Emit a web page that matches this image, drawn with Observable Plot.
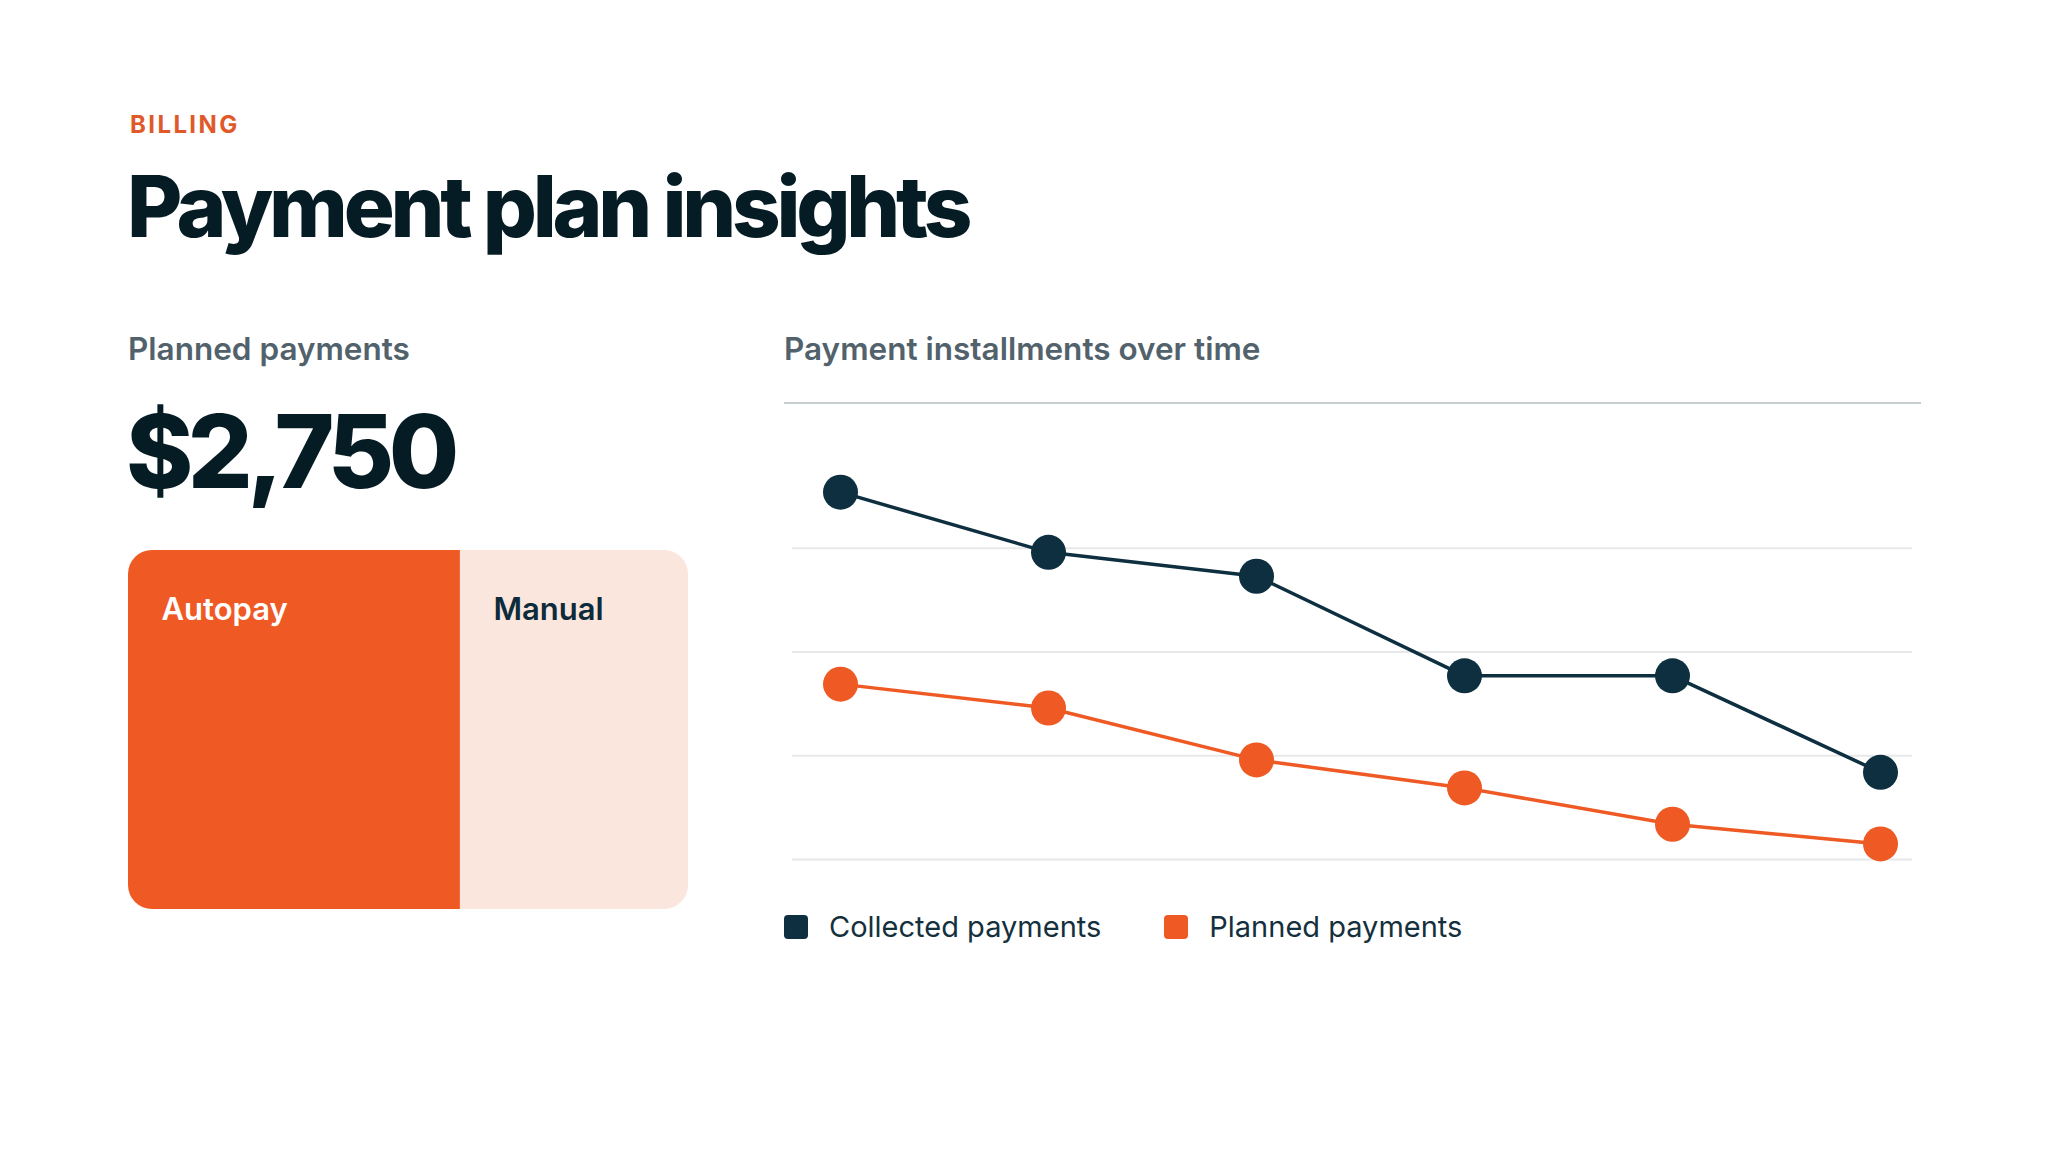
<!DOCTYPE html>
<html>
<head>
<meta charset="utf-8">
<script src="https://cdn.jsdelivr.net/npm/d3@7"></script>
<script src="https://cdn.jsdelivr.net/npm/@observablehq/plot@0.6"></script>
<style>
  html, body { margin: 0; padding: 0; background: #ffffff; }
  body { width: 2048px; height: 1152px; position: relative; overflow: hidden; font-family: Inter, "Noto Sans", sans-serif; }
  .abs { position: absolute; line-height: 1; white-space: nowrap; }
  #eyebrow { left: 130px; top: 112.6px; font-size: 24px; font-weight: 700; letter-spacing: 0.1em; color: #E0592B; }
  #title { left: 127px; top: 164px; font-size: 85px; font-weight: 800; letter-spacing: -0.05em; color: #061C25; }
  .section { top: 332.8px; font-size: 31.5px; font-weight: 600; color: #52626C; }
  #kpi { left: 126px; top: 400px; font-size: 102px; font-weight: 800; letter-spacing: -0.055em; color: #061C25; }
  #split { left: 128px; top: 550px; width: 560px; height: 359px; border-radius: 24px; overflow: hidden; }
  #sep { left: 784px; top: 402px; width: 1137px; height: 2px; background: #C8CDCF; }
  #chart { left: 788px; top: 405px; width: 1142px; }
  #legend { left: 784px; top: 912px; display: flex; align-items: center; font-size: 29px; color: #15303D; }
  .item { display: flex; align-items: center; margin-right: 63px; }
  .sw { width: 24px; height: 24px; border-radius: 4px; margin-right: 21px; }
</style>
</head>
<body>
<div id="eyebrow" class="abs">BILLING</div>
<div id="title" class="abs">Payment plan insights</div>
<div class="abs section" style="left:128px">Planned payments</div>
<div class="abs section" style="left:784px">Payment installments over time</div>
<div id="kpi" class="abs"></div>
<div id="split" class="abs"></div>
<div id="sep" class="abs"></div>
<div id="chart" class="abs"></div>
<div id="legend" class="abs"></div>
<script>
// ---- data ----
const splitLabels = ["Autopay", "Manual"];
const splitValues = [1630, 1120];
const splitColors = ["#EF5A24", "#FBE6DE"];
const splitTextColors = ["#FFFFFF", "#0D2B3A"];

const installments = [1, 2, 3, 4, 5, 6];
const collected = [354, 296, 273, 177, 177, 84];
const planned = [169, 146, 96, 69, 34, 15];
const seriesNames = ["Collected payments", "Planned payments"];
const seriesColors = ["#0D2F3F", "#EF5A24"];
const gridTicks = [0, 100, 200, 300];

// ---- KPI ----
const total = d3.sum(splitValues);
document.getElementById("kpi").textContent = "$" + d3.format(",")(total);

// ---- split (treemap-like bar) ----
let acc = 0;
const splitData = splitLabels.map((label, i) => {
  const d = {label, value: splitValues[i], start: acc, fill: splitColors[i], textColor: splitTextColors[i]};
  acc += splitValues[i];
  return d;
});
const splitPlot = Plot.plot({
  width: 560,
  height: 359,
  margin: 0,
  x: {domain: [0, total], range: [0, 560], axis: null},
  marks: [
    Plot.rectX(splitData, {x1: "start", x2: d => d.start + d.value, fill: d => d.fill}),
    Plot.text(splitData, {
      x: "start", text: "label", fill: d => d.textColor,
      frameAnchor: "top", textAnchor: "start", lineAnchor: "top",
      dx: 33, dy: 47, fontSize: 31, fontWeight: 600, fontFamily: "Inter"
    })
  ]
});
document.getElementById("split").appendChild(splitPlot);

// ---- line chart ----
const rows = [];
installments.forEach((t, i) => {
  rows.push({t, v: collected[i], s: seriesNames[0]});
  rows.push({t, v: planned[i], s: seriesNames[1]});
});
const chartTop = 405;
const lineChart = Plot.plot({
  width: 1142,
  height: 500,
  marginLeft: 4,
  marginRight: 18,
  marginTop: 0,
  marginBottom: 0,
  x: {type: "point", domain: installments, range: [51, 1092], padding: 0, axis: null},
  y: {domain: [0, 300], range: [859 - chartTop, 547.7 - chartTop], axis: null},
  color: {domain: seriesNames, range: seriesColors},
  style: {background: "transparent", overflow: "visible"},
  marks: [
    Plot.gridY(gridTicks, {stroke: "#E6E8EA", strokeOpacity: 1, strokeWidth: 2}),
    Plot.line(rows, {x: "t", y: "v", z: "s", stroke: "s", strokeWidth: 3.5}),
    Plot.dot(rows, {x: "t", y: "v", fill: "s", r: 17.5})
  ]
});
document.getElementById("chart").appendChild(lineChart);

// ---- legend ----
const legend = document.getElementById("legend");
seriesNames.forEach((name, i) => {
  const item = document.createElement("div");
  item.className = "item";
  const sw = document.createElement("div");
  sw.className = "sw";
  sw.style.background = seriesColors[i];
  const label = document.createElement("span");
  label.textContent = name;
  item.appendChild(sw);
  item.appendChild(label);
  legend.appendChild(item);
});
</script>
</body>
</html>
